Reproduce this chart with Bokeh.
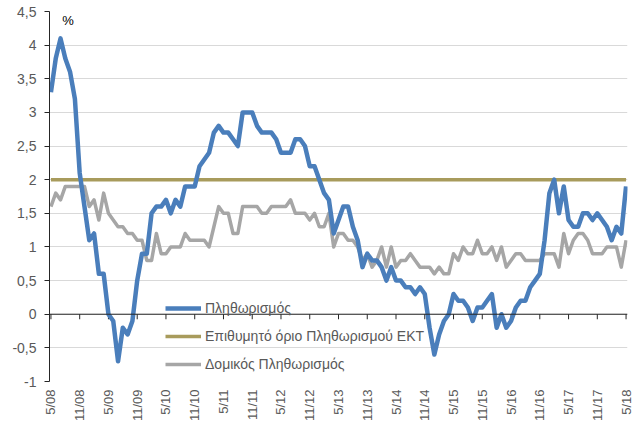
from bokeh.plotting import figure
from bokeh.models import (Range1d, FixedTicker, CustomJSTickFormatter, Legend,
                          LegendItem, Span, Label, ColumnDataSource)
from bokeh.embed import file_html
from bokeh.resources import INLINE

# ---- data -------------------------------------------------------------
tick_labels = ["5/08", "11/08", "5/09", "11/09", "5/10", "11/10", "5/11", "11/11",
               "5/12", "11/12", "5/13", "11/13", "5/14", "11/14", "5/15", "11/15",
               "5/16", "11/16", "5/17", "11/17", "5/18"]

headline = [3.3, 3.8, 4.1, 3.8, 3.6, 3.2, 2.1, 1.6, 1.1, 1.2,
            0.6, 0.6, 0.0, -0.1, -0.7, -0.2, -0.3, -0.1, 0.5, 0.9,
            0.9, 1.5, 1.6, 1.6, 1.7, 1.5, 1.7, 1.6, 1.9, 1.9,
            1.9, 2.2, 2.3, 2.4, 2.7, 2.8, 2.7, 2.7, 2.6, 2.5,
            3.0, 3.0, 3.0, 2.8, 2.7, 2.7, 2.7, 2.6, 2.4, 2.4,
            2.4, 2.6, 2.6, 2.5, 2.2, 2.2, 2.0, 1.8, 1.7, 1.2,
            1.4, 1.6, 1.6, 1.3, 1.1, 0.7, 0.9, 0.8, 0.8, 0.7,
            0.5, 0.7, 0.5, 0.5, 0.4, 0.4, 0.3, 0.4, 0.3, -0.2,
            -0.6, -0.3, -0.1, 0.0, 0.3, 0.2, 0.2, 0.1, -0.1, 0.1,
            0.1, 0.2, 0.3, -0.2, 0.0, -0.2, -0.1, 0.1, 0.2, 0.2,
            0.4, 0.5, 0.6, 1.1, 1.8, 2.0, 1.5, 1.9, 1.4, 1.3,
            1.3, 1.5, 1.5, 1.4, 1.5, 1.4, 1.3, 1.1, 1.3, 1.2,
            1.9]

core = [1.6, 1.8, 1.7, 1.9, 1.9, 1.9, 1.9, 1.9, 1.6, 1.7,
        1.4, 1.8, 1.5, 1.4, 1.3, 1.3, 1.2, 1.2, 1.1, 1.1,
        0.8, 0.8, 1.2, 0.9, 0.9, 1.0, 1.0, 1.0, 1.2, 1.1,
        1.1, 1.1, 1.1, 1.0, 1.3, 1.6, 1.5, 1.5, 1.2, 1.2,
        1.6, 1.6, 1.6, 1.6, 1.5, 1.5, 1.6, 1.6, 1.6, 1.6,
        1.7, 1.5, 1.5, 1.5, 1.4, 1.5, 1.3, 1.3, 1.5, 1.0,
        1.2, 1.2, 1.1, 1.1, 1.0, 0.8, 0.9, 0.7, 0.8, 1.0,
        0.7, 1.0, 0.7, 0.8, 0.8, 0.9, 0.8, 0.7, 0.7, 0.7,
        0.6, 0.7, 0.6, 0.6, 0.9, 0.8, 1.0, 0.9, 0.9, 1.1,
        0.9, 0.9, 1.0, 0.8, 1.0, 0.7, 0.8, 0.9, 0.9, 0.8,
        0.8, 0.8, 0.8, 0.9, 0.9, 0.9, 0.7, 1.2, 0.9, 1.1,
        1.2, 1.2, 1.1, 0.9, 0.9, 0.9, 1.0, 1.0, 1.0, 0.7,
        1.1]

ecb_target = 2.0
y_ticks = [-1, -0.5, 0, 0.5, 1, 1.5, 2, 2.5, 3, 3.5, 4, 4.5]

names = ["Πληθωρισμός", "Επιθυμητό όριο Πληθωρισμού ΕΚΤ", "Δομικός Πληθωρισμός"]

# ---- derived ----------------------------------------------------------
months = list(range(len(headline)))
step = (len(months) - 1) // (len(tick_labels) - 1)
tick_pos = [i * step for i in range(len(tick_labels))]

FONT = "Liberation Sans"
TXT = "#595959"
AX = "#262626"

p = figure(width=634, height=424, output_backend="svg", toolbar_location=None,
           x_range=Range1d(-0.3, 120.3), y_range=Range1d(-1, 4.5),
           min_border_left=49, min_border_right=7, min_border_top=11,
           min_border_bottom=42)
p.outline_line_color = None
p.background_fill_color = "white"

# y axis
p.yaxis.ticker = FixedTicker(ticks=y_ticks)
p.yaxis.formatter = CustomJSTickFormatter(code="return String(tick).replace('.', ',');")
p.yaxis.axis_line_color = AX
p.yaxis.major_tick_line_color = AX
p.yaxis.major_tick_out = 5
p.yaxis.major_tick_in = 0
p.yaxis.minor_tick_line_color = None
p.yaxis.major_label_text_font = FONT
p.yaxis.major_label_text_font_size = "14px"
p.yaxis.major_label_text_color = TXT
p.yaxis.major_label_standoff = 8

# x axis (labels only, at bottom)
p.xaxis.ticker = FixedTicker(ticks=tick_pos)
p.xaxis.major_label_overrides = {t: l for t, l in zip(tick_pos, tick_labels)}
p.xaxis.axis_line_color = None
p.xaxis.major_tick_line_color = None
p.xaxis.minor_tick_line_color = None
p.xaxis.major_tick_out = 0
p.xaxis.major_tick_in = 0
p.xaxis.major_label_orientation = 3.14159265 / 2
p.xaxis.major_label_text_font = FONT
p.xaxis.major_label_text_font_size = "13px"
p.xaxis.major_label_text_color = TXT
p.xaxis.major_label_standoff = 8

# grid
p.xgrid.grid_line_color = None
p.ygrid.ticker = FixedTicker(ticks=y_ticks)
p.ygrid.grid_line_color = "#D9D9D9"
p.ygrid.grid_line_width = 1

# zero axis line with ticks
p.add_layout(Span(location=0, dimension="width", line_color=AX, line_width=1))
p.segment(x0=tick_pos, y0=[0] * len(tick_pos), x1=tick_pos,
          y1=[-0.075] * len(tick_pos), line_color=AX, line_width=1)

src = ColumnDataSource(dict(x=months, headline=headline, core=core))

r_target = p.line(x=[months[0], months[-1]], y=[ecb_target, ecb_target],
                  line_color="#A89B5C", line_width=3.5)
r_core = p.line("x", "core", source=src, line_color="#A6A6A6", line_width=3.5,
                line_join="round")
r_head = p.line("x", "headline", source=src, line_color="#4A7EBB", line_width=4.5,
                line_join="round")

legend = Legend(items=[LegendItem(label=names[0], renderers=[r_head]),
                       LegendItem(label=names[1], renderers=[r_target]),
                       LegendItem(label=names[2], renderers=[r_core])],
                location=(116, 7), orientation="vertical",
                glyph_width=36, glyph_height=20, label_height=20,
                spacing=8, padding=0, margin=0, label_standoff=4,
                label_text_font=FONT, label_text_font_size="14px",
                label_text_color=TXT, background_fill_alpha=0,
                border_line_color=None)
p.add_layout(legend, "center")

p.add_layout(Label(x=3.56, y=4.36, text="%", text_font=FONT, text_font_size="13px",
                   text_color="#000000", text_align="center", text_baseline="middle"))

open("out.html", "w").write(file_html(p, INLINE))
